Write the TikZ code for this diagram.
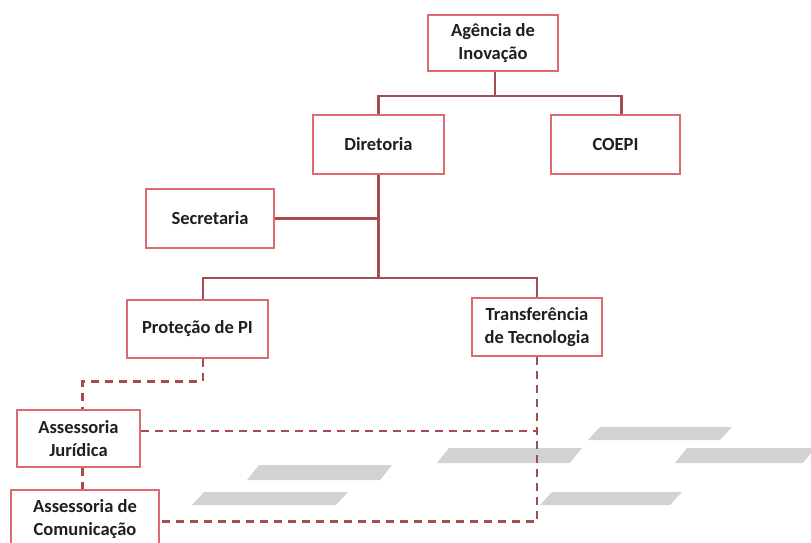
\documentclass[tikz,border=0pt]{standalone}
\usepackage{fontspec}
\setmainfont{Carlito}
\usetikzlibrary{calc}
\definecolor{linered}{HTML}{A64B4E}
\definecolor{boxred}{HTML}{DD6B6E}
\definecolor{ghost}{HTML}{D2D2D2}
\tikzset{
  orgbox/.style={draw=boxred, line width=2.2pt, fill=white, align=center,
    font=\fontsize{18.5}{23}\selectfont\bfseries, text=black!88, inner sep=0pt},
  solidlink/.style={draw=linered, line width=2.5pt},
  dashlink/.style={draw=linered, line width=2.8pt, dash pattern=on 8pt off 6pt},
  ghostshape/.style={fill=ghost, draw=none}
}
\begin{document}
\begin{tikzpicture}[x=1pt,y=-1pt]
\useasboundingbox (0,0) rectangle (811,542);
\clip (0,0) rectangle (811,542);
\fill[white] (0,0) rectangle (811,542);
% faint background shapes
\fill[ghostshape] (600,427) -- (732,427) -- (720,440) -- (588,440) -- cycle;
\fill[ghostshape] (449,448) -- (582,448) -- (570,463) -- (437,463) -- cycle;
\fill[ghostshape] (687,448) -- (815,448) -- (803,463) -- (675,463) -- cycle;
\fill[ghostshape] (552,492) -- (682,492) -- (670,505) -- (540,505) -- cycle;
\fill[ghostshape] (259,465) -- (392,465) -- (380,480) -- (247,480) -- cycle;
\fill[ghostshape] (204,492) -- (348,492) -- (336,505) -- (192,505) -- cycle;
% boxes
\node[orgbox, minimum width=130pt, minimum height=56pt] (ag) at (493,43) {Agência de\\Inovação};
\node[orgbox, minimum width=131pt, minimum height=59pt] (dir) at (378.5,144.5) {Diretoria};
\node[orgbox, minimum width=129pt, minimum height=59pt] (coepi) at (615.5,144.5) {COEPI};
\node[orgbox, minimum width=128pt, minimum height=59pt] (sec) at (210,218.5) {Secretaria};
\node[orgbox, minimum width=141pt, minimum height=58pt] (prot) at (197.5,329) {Proteção de PI};
\node[orgbox, minimum width=130pt, minimum height=58pt] (trans) at (537,327) {Transferência\\de Tecnologia};
\node[orgbox, minimum width=123pt, minimum height=57pt] (jur) at (78.5,438.5) {Assessoria\\Jurídica};
\node[orgbox, minimum width=148pt, minimum height=58pt] (com) at (85,519) {Assessoria de\\Comunicação};
% coordinates
\coordinate (agb) at ($(ag.south)+(2,0)$);
\coordinate (top) at ($(agb)+(0,24)$);
\coordinate (secj) at (dir.south |- sec.east);
\coordinate (mid) at ($(dir.south)+(0,103)$);
\coordinate (protn) at ($(prot.north)+(5.5,0)$);
\coordinate (prots) at ($(prot.south)+(5.5,0)$);
\coordinate (protd) at ($(prots)+(0,22)$);
\coordinate (jurn) at ($(jur.north)+(4,0)$);
\coordinate (jurs) at ($(jur.south)+(4,0)$);
\coordinate (jure) at ($(jur.east)+(0,-7.5)$);
\coordinate (come) at ($(com.east)+(0,2.7)$);
\coordinate (coepin) at ($(coepi.north)+(6,0)$);
\coordinate (jurhit) at (trans.south |- jure);
% solid connectors
\draw[solidlink] (agb) -- (top);
\draw[solidlink] (top) -| (dir.north);
\draw[solidlink] (top) -| (coepin);
\draw[solidlink] (dir.south) -- (mid);
\draw[solidlink] (sec.east) -- (secj);
\draw[solidlink] (mid) -| (protn);
\draw[solidlink] (mid) -| (trans.north);
% dashed connectors
\draw[dashlink] (prots) -- (protd) -| (jurn);
\draw[dashlink] (jurs) -- (com.north -| jurs);
\draw[dashlink] (jure) -- (jurhit);
\draw[dashlink] (trans.south) |- (come);
\end{tikzpicture}
\end{document}
